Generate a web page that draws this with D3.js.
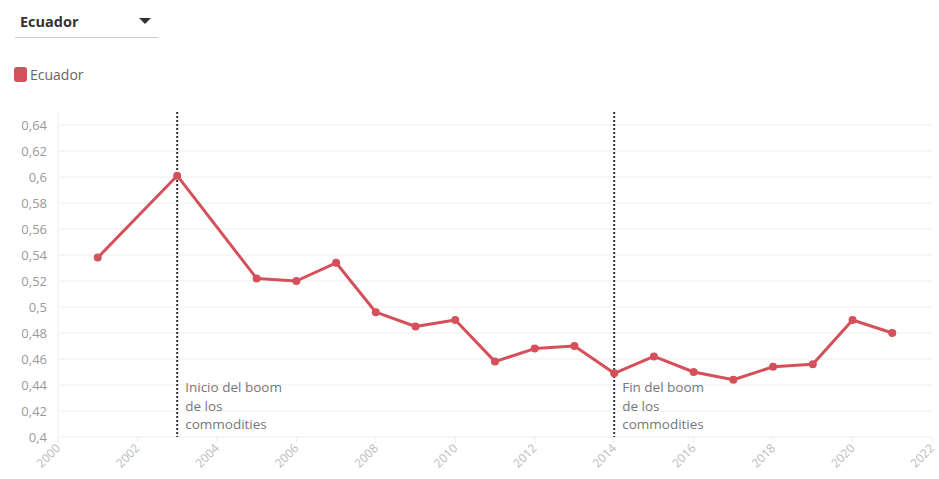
<!DOCTYPE html>
<html>
<head>
<meta charset="utf-8">
<script src="https://cdn.jsdelivr.net/npm/d3@7"></script>
<style>
  body { margin:0; background:#fff; font-family:"Open Sans", Lato, sans-serif; }
  svg { display:block; }
</style>
</head>
<body>
<svg id="chart" width="939" height="479"></svg>
<script>
// datos: índice por año (Ecuador)
const years  = [2001, 2003, 2005, 2006, 2007, 2008, 2009, 2010, 2011, 2012, 2013, 2014, 2015, 2016, 2017, 2018, 2019, 2020, 2021];
const values = [0.538, 0.601, 0.522, 0.520, 0.534, 0.496, 0.485, 0.490, 0.458, 0.468, 0.470, 0.449, 0.462, 0.450, 0.444, 0.454, 0.456, 0.490, 0.480];
const yTicks = [0.4, 0.42, 0.44, 0.46, 0.48, 0.5, 0.52, 0.54, 0.56, 0.58, 0.6, 0.62, 0.64];
const xTicks = [2000, 2002, 2004, 2006, 2008, 2010, 2012, 2014, 2016, 2018, 2020, 2022];
const markers = [
  { year:2003, lines:['Inicio del boom', 'de los', 'commodities'] },
  { year:2014, lines:['Fin del boom', 'de los', 'commodities'] }
];
const country = 'Ecuador';
const red = '#d4505b';

const svg = d3.select('#chart');
const m = { left:58, right:932, top:112, bottom:437 };
const x = d3.scaleLinear().domain([2000, 2022]).range([m.left, m.right]);
const y = d3.scaleLinear().domain([0.4, 0.65]).range([m.bottom, m.top]);
const fmt = v => String(+v.toFixed(2)).replace('.', ',');

/* ── dropdown + leyenda ── */
svg.append('text').attr('x', 20).attr('y', 27)
  .attr('font-size', 14.5).attr('font-weight', 700).attr('fill', '#333').text(country);
svg.append('path').attr('d', 'M139,18 L151,18 L145,24 Z').attr('fill', '#333');
svg.append('line').attr('x1', 15).attr('x2', 158).attr('y1', 37.5).attr('y2', 37.5)
  .attr('stroke', '#ccc').attr('stroke-width', 1.2);

svg.append('rect').attr('x', 14).attr('y', 67).attr('width', 13).attr('height', 15)
  .attr('rx', 3).attr('fill', red);
svg.append('text').attr('x', 30).attr('y', 80)
  .attr('font-size', 14).attr('fill', '#666').text(country);

/* ── grid ── */
svg.append('g').selectAll('line').data(yTicks).join('line')
  .attr('x1', m.left).attr('x2', m.right)
  .attr('y1', d => y(d)).attr('y2', d => y(d))
  .attr('stroke', '#eee').attr('stroke-width', 1);
svg.append('line').attr('x1', m.left).attr('x2', m.left)
  .attr('y1', m.top).attr('y2', m.bottom + 6).attr('stroke', '#eee');

// eje y
svg.append('g').selectAll('text').data(yTicks).join('text')
  .attr('x', 47).attr('y', d => y(d) + 4.5)
  .attr('text-anchor', 'end').attr('font-size', 13).attr('fill', '#9a9a9a')
  .text(fmt);

// eje x
const xg = svg.append('g');
xg.selectAll('line').data(xTicks).join('line')
  .attr('x1', d => x(d)).attr('x2', d => x(d))
  .attr('y1', m.bottom).attr('y2', m.bottom + 6).attr('stroke', '#eee');
xg.selectAll('text').data(xTicks).join('text')
  .attr('transform', d => 'translate(' + (x(d) + 3) + ',' + (m.bottom + 12) + ') rotate(-45)')
  .attr('text-anchor', 'end').attr('font-size', 12).attr('fill', '#bbb')
  .text(d => d);

/* ── marcadores verticales ── */
markers.forEach(mk => {
  svg.append('line').attr('x1', x(mk.year)).attr('x2', x(mk.year))
    .attr('y1', m.top).attr('y2', m.bottom)
    .attr('stroke', '#333').attr('stroke-width', 2).attr('stroke-dasharray', '2,2');
  svg.append('g').selectAll('text').data(mk.lines).join('text')
    .attr('x', x(mk.year) + 8).attr('y', (d, i) => 392 + i * 18.5)
    .attr('font-size', 13.5).attr('fill', '#777').text(d => d);
});

/* ── serie ── */
const pts = years.map((yr, i) => ({ yr, v: values[i] }));
svg.append('path').datum(pts)
  .attr('fill', 'none').attr('stroke', red).attr('stroke-width', 3)
  .attr('stroke-linejoin', 'round')
  .attr('d', d3.line().x(d => x(d.yr)).y(d => y(d.v)));
svg.append('g').selectAll('circle').data(pts).join('circle')
  .attr('cx', d => x(d.yr)).attr('cy', d => y(d.v)).attr('r', 4)
  .attr('fill', red);
</script>
</body>
</html>
